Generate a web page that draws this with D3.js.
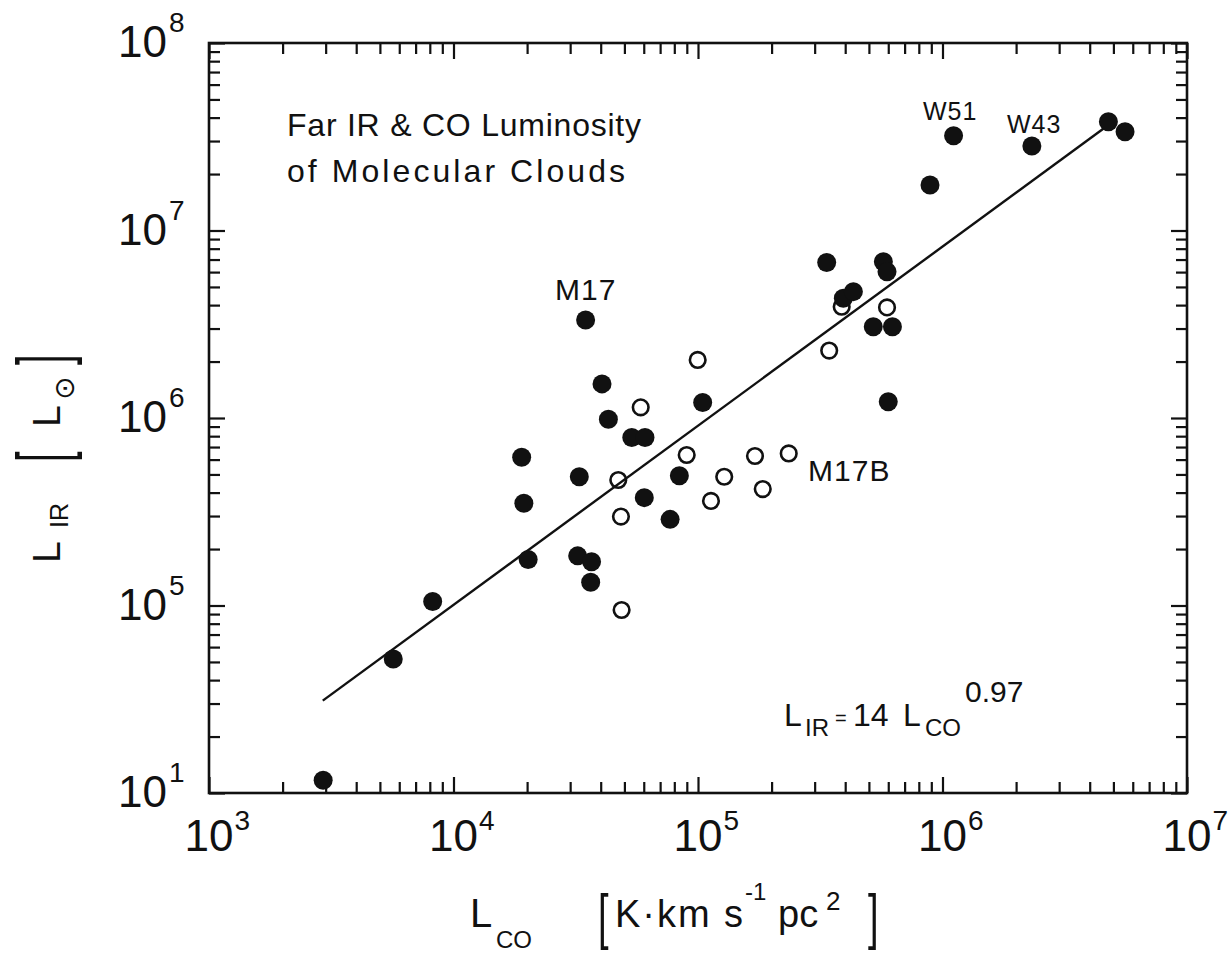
<!DOCTYPE html>
<html>
<head>
<meta charset="utf-8">
<script src="https://cdn.jsdelivr.net/npm/d3@7"></script>
<style>
  body { margin: 0; background: #fff; }
  svg text { font-family: "Liberation Sans", "DejaVu Sans", sans-serif; fill: #111; }
</style>
</head>
<body>
<svg id="chart"></svg>
<script>
// L_CO [K km s^-1 pc^2] and L_IR [L_sun]
const filledCO = [2.93e3, 5.67e3, 8.22e3, 2.02e4, 1.90e4, 1.94e4, 3.22e4, 3.67e4, 3.64e4, 3.27e4,
                  3.47e4, 4.05e4, 4.30e4, 5.36e4, 6.07e4, 6.03e4, 7.69e4, 8.39e4, 1.045e5, 3.36e5,
                  3.93e5, 4.32e5, 5.73e5, 5.93e5, 5.21e5, 6.24e5, 6.00e5, 8.89e5, 1.11e6, 2.32e6,
                  4.77e6, 5.58e6];
const filledIR = [1.17e4, 5.18e4, 1.05e5, 1.76e5, 6.17e5, 3.51e5, 1.84e5, 1.71e5, 1.33e5, 4.86e5,
                  3.33e6, 1.52e6, 9.85e5, 7.87e5, 7.87e5, 3.76e5, 2.88e5, 4.92e5, 1.21e6, 6.75e6,
                  4.35e6, 4.72e6, 6.82e6, 6.03e6, 3.07e6, 3.07e6, 1.22e6, 1.75e7, 3.20e7, 2.82e7,
                  3.80e7, 3.36e7];
const openCO = [4.87e4, 4.84e4, 4.72e4, 5.83e4, 8.99e4, 9.97e4, 1.13e5, 1.28e5, 1.71e5, 1.84e5,
                2.35e5, 3.44e5, 3.87e5, 5.93e5];
const openIR = [9.46e4, 2.98e5, 4.67e5, 1.14e6, 6.35e5, 2.04e6, 3.61e5, 4.86e5, 6.27e5, 4.18e5,
                6.47e5, 2.29e6, 3.92e6, 3.89e6];

// fitted relation L_IR = 14 L_CO^0.97, end points as drawn
const fitCO = [2.92e3, 4.77e6];
const fitIR = [3.11e4, 3.65e7];

const xTickValues = [1e3, 1e4, 1e5, 1e6, 1e7];
const xTickExps = ['3', '4', '5', '6', '7'];
const yTickValues = [1e4, 1e5, 1e6, 1e7, 1e8];
const yTickExps = ['1', '5', '6', '7', '8'];

const labelNames = ['M17', 'M17B', 'W51', 'W43'];
const labelCO = [2.60e4, 2.82e5, 8.32e5, 1.835e6];
const labelIR = [4.26e6, 4.61e5, 3.88e7, 3.31e7];

const width = 1229, height = 956;
const plot = {left: 209, right: 1187, top: 43, bottom: 793};

const svg = d3.select('#chart')
    .attr('width', width)
    .attr('height', height);

const x = d3.scaleLog().domain([1e3, 1e7]).range([plot.left, plot.right]);
const y = d3.scaleLog().domain([1e4, 1e8]).range([plot.bottom, plot.top]);

const isMajor = v => Math.abs(Math.log10(v) - Math.round(Math.log10(v))) < 1e-6;
const xMinor = x.ticks().filter(v => !isMajor(v));
const yMinor = y.ticks().filter(v => !isMajor(v));

// ticks on all four sides, pointing inwards
function addTicks(axisFn, scale, vals, size, transform) {
    svg.append('g')
        .attr('transform', transform)
        .call(axisFn(scale).tickValues(vals).tickSizeInner(-size).tickSizeOuter(0).tickFormat(''))
        .call(g => g.select('.domain').remove())
        .call(g => g.selectAll('.tick line').attr('stroke', '#111').attr('stroke-width', 2.2));
}
[[xTickValues, 16], [xMinor, 11]].forEach(([vals, s]) => {
    addTicks(d3.axisBottom, x, vals, s, `translate(0,${plot.bottom})`);
    addTicks(d3.axisTop, x, vals, s, `translate(0,${plot.top})`);
});
[[yTickValues, 16], [yMinor, 11]].forEach(([vals, s]) => {
    addTicks(d3.axisLeft, y, vals, s, `translate(${plot.left},0)`);
    addTicks(d3.axisRight, y, vals, s, `translate(${plot.right},0)`);
});

svg.append('rect')
    .attr('x', plot.left).attr('y', plot.top)
    .attr('width', plot.right - plot.left).attr('height', plot.bottom - plot.top)
    .attr('fill', 'none').attr('stroke', '#111').attr('stroke-width', 2.6);

// tick labels 10^n
xTickValues.forEach((v, i) => {
    const t = svg.append('text')
        .attr('x', x(v)).attr('y', plot.bottom + 58)
        .attr('text-anchor', 'middle')
        .style('font-size', '44px')
        .text('10');
    const w = t.node().getComputedTextLength();
    svg.append('text')
        .attr('x', x(v) + w / 2 + 1).attr('y', plot.bottom + 37)
        .style('font-size', '28px')
        .text(xTickExps[i]);
});
yTickValues.forEach((v, i) => {
    svg.append('text')
        .attr('x', 167).attr('y', y(v) + 14)
        .attr('text-anchor', 'end')
        .style('font-size', '44px')
        .text('10');
    svg.append('text')
        .attr('x', 169).attr('y', y(v) - 11)
        .style('font-size', '28px')
        .text(yTickExps[i]);
});

// fit line
const line = d3.line()
    .x(d => x(d[0]))
    .y(d => y(d[1]));
svg.append('path')
    .attr('d', line(d3.zip(fitCO, fitIR)))
    .attr('fill', 'none')
    .attr('stroke', '#111')
    .attr('stroke-width', 2.4);

// open circles first, filled dots drawn over them
svg.append('g').selectAll('circle')
    .data(d3.zip(openCO, openIR))
    .join('circle')
    .attr('cx', d => x(d[0]))
    .attr('cy', d => y(d[1]))
    .attr('r', 7.8)
    .attr('fill', 'none')
    .attr('stroke', '#111')
    .attr('stroke-width', 2.6);

svg.append('g').selectAll('circle')
    .data(d3.zip(filledCO, filledIR))
    .join('circle')
    .attr('cx', d => x(d[0]))
    .attr('cy', d => y(d[1]))
    .attr('r', 9.5)
    .attr('fill', '#111');

// source labels
labelNames.forEach((name, i) => {
    svg.append('text')
        .attr('x', x(labelCO[i])).attr('y', y(labelIR[i]))
        .style('font-size', i < 2 ? '30px' : '25px')
        .style('letter-spacing', '1px')
        .text(name);
});

// title inside plot
svg.append('text')
    .attr('x', 287).attr('y', 136)
    .style('font-size', '32px')
    .attr('textLength', 354).attr('lengthAdjust', 'spacing')
    .text('Far IR & CO Luminosity');
svg.append('text')
    .attr('x', 287).attr('y', 182)
    .style('font-size', '32px')
    .attr('textLength', 338).attr('lengthAdjust', 'spacing')
    .text('of Molecular Clouds');

// relation
function put(str, px, py, size, extra) {
    const t = svg.append('text').attr('x', px).attr('y', py).style('font-size', size + 'px').text(str);
    if (extra) extra(t);
    return t;
}
put('L', 784, 726, 32);
put('IR', 805, 736, 24);
put('=', 835, 725, 20);
put('14', 853, 726, 32);
put('L', 903, 726, 32);
put('CO', 925, 736, 24);
put('0.97', 965, 702, 30);

// x axis title
put('L', 470, 927, 40);
put('CO', 496, 948, 24);
put('[', 0, 0, 38, t => t.attr('transform', 'translate(598,937) scale(1,1.6)'));
put('K·km s', 615, 927, 38, t => t.attr('textLength', 128).attr('lengthAdjust', 'spacing'));
put('-1', 745, 900, 24);
put('pc', 778, 927, 38);
put('2', 826, 910, 26);
put(']', 0, 0, 38, t => t.attr('transform', 'translate(868,937) scale(1,1.6)'));

// y axis title, rotated
const yl = svg.append('g').attr('transform', 'translate(60,0) rotate(-90)');
function putR(str, u, v, size, sy) {
    const t = yl.append('text').attr('x', u).attr('y', v).style('font-size', size + 'px').text(str);
    if (sy) t.attr('x', 0).attr('y', 0).attr('transform', `translate(${u},${v}) scale(1,${sy})`);
    return t;
}
putR('L', -563, 0, 39);
putR('IR', -528, 8, 25);
putR('[', -462, 7, 38, 1.9);
putR('L', -427, 0, 39);
putR('⊙', -400, 14, 28);
putR(']', -365, 7, 38, 1.9);
</script>
</body>
</html>
